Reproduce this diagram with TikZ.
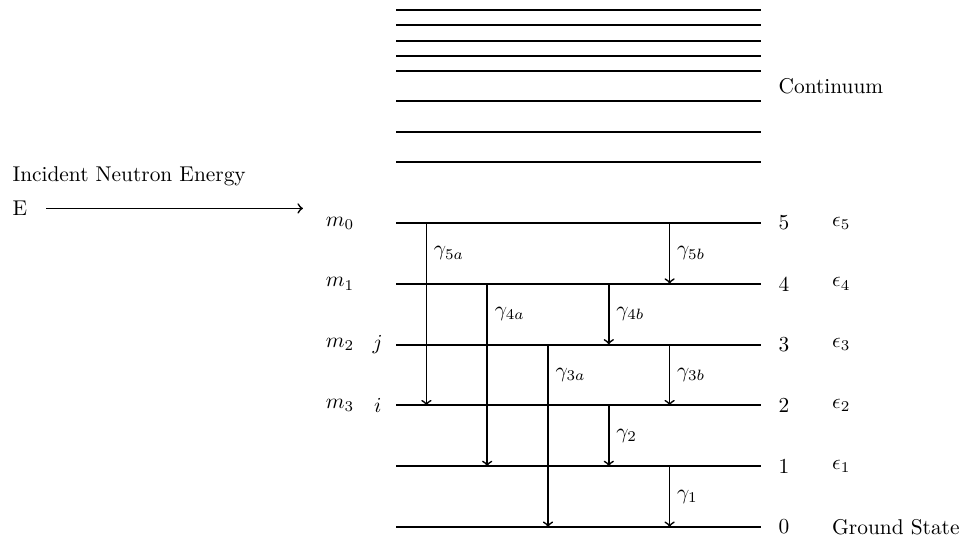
\documentclass[tikz,border=0pt]{standalone}
\usepackage{amsmath}

\tikzset{
  level/.style={line width=1pt},
  gam/.style={thick,->},
  glab/.style={right},
}

\begin{document}
\begin{tikzpicture}
    \useasboundingbox (-6.513,-0.214) rectangle (9.276,8.668);

    % continuum
    \foreach \y in {6,6.5,7,7.5,7.75,8,8.25,8.5}
        \draw[level] (0,\y) -- (6,\y);
    \node[right] (cont) at (6.17,7.25) {Continuum};

    % bound levels
    \foreach \y in {0,...,5} {
        \draw[level] (0,\y) -- (6,\y);
        \node[right] (n\y) at (6.17,\y) {\y};
    }
    \foreach \y in {1,...,5}
        \node[right] (e\y) at (7.05,\y) {$\epsilon_{\y}$};
    \node[right] (gs) at (7.05,0) {Ground State};

    \node (m0) at (-0.92,5) {$m_0$};
    \node (m1) at (-0.92,4) {$m_1$};
    \node (m2) at (-0.92,3) {$m_2$};
    \node (m3) at (-0.92,2) {$m_3$};
    \node (j) at (-0.3,3) {$j$};
    \node (i) at (-0.3,2) {$i$};

    % incident neutron
    \node[right] (inc) at (-6.43,5.77) {Incident Neutron Energy};
    \node[right] (E) at (-6.43,5.24) {E};
    \coordinate (Eend) at (-1.53,5.24);
    \draw[thick,->,shorten <=0.19cm] (E.east) -- (Eend);

    % gamma transitions
    \foreach \x/\c in {0.5/a,1.5/b,2.5/c,3.5/d,4.5/e}
        \foreach \y in {0,...,5}
            \coordinate (\c\y) at (\x,\y);

    \draw[gam] (a5) -- (a2);
    \node[glab] (g5a) at (0.5,4.5) {$\gamma_{5a}$};
    \draw[gam] (b4) -- (b1);
    \node[glab] (g4a) at (1.5,3.5) {$\gamma_{4a}$};
    \draw[gam] (c3) -- (c0);
    \node[glab] (g3a) at (2.5,2.5) {$\gamma_{3a}$};
    \draw[gam] (d4) -- (d3);
    \node[glab] (g4b) at (3.5,3.5) {$\gamma_{4b}$};
    \draw[gam] (d2) -- (d1);
    \node[glab] (g2) at (3.5,1.5) {$\gamma_{2}$};
    \draw[gam] (e5) -- (e4);
    \node[glab] (g5b) at (4.5,4.5) {$\gamma_{5b}$};
    \draw[gam] (e3) -- (e2);
    \node[glab] (g3b) at (4.5,2.5) {$\gamma_{3b}$};
    \draw[gam] (e1) -- (e0);
    \node[glab] (g1) at (4.5,0.5) {$\gamma_{1}$};
\end{tikzpicture}
\end{document}
